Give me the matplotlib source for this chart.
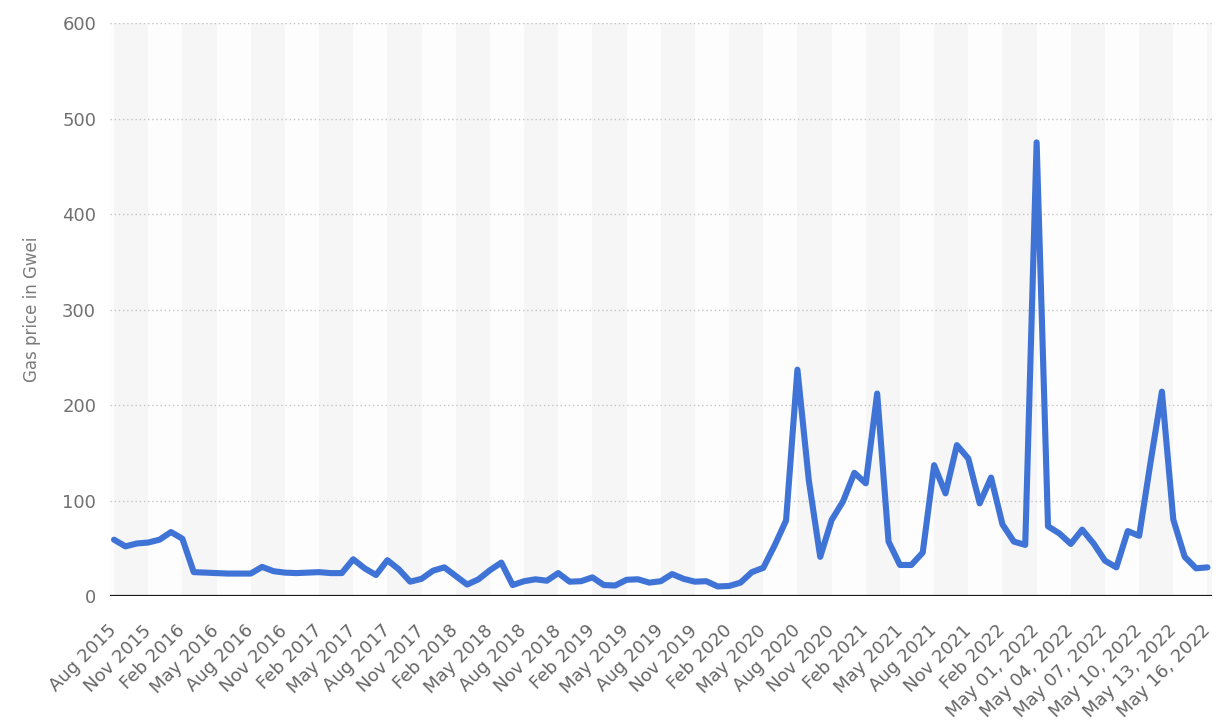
import pandas as pd
import matplotlib.pyplot as plt
from matplotlib.transforms import ScaledTranslation

# monthly averages Aug 2015 - Apr 2022, then daily values May 1-16, 2022
months = pd.date_range('2015-08-01', '2022-04-01', freq='MS').strftime('%b %Y').tolist()
days = pd.date_range('2022-05-01', '2022-05-16', freq='D').strftime('%b %d, %Y').tolist()
labels = months + days

gas_price = [
    59, 52, 55, 56, 59, 67, 60, 25, 24.5, 24, 23.5, 23.5, 23.5, 30.5, 26, 24.5,
    24, 24.5, 25, 24, 24, 38.5, 29, 22, 37.5, 28, 15, 18, 26.5, 30, 21, 12,
    17.5, 27, 35, 11.5, 15.5, 17.5, 16, 24, 15, 15.5, 19.5, 11.5, 11, 17, 17.5, 14,
    15.5, 23, 18, 15, 15.5, 10, 10.5, 14, 25, 29.5, 53, 79, 237, 121,
    41, 79.5, 99, 129, 118, 212, 57, 32.5, 32.5, 45.5, 137, 107.5, 158, 144, 97, 124,
    75, 57, 53.5,
    475, 73, 65.5, 54.5, 69.5, 55, 37, 30, 68, 63, 140, 214, 80, 41, 29, 30,
]

y_ticks = [0, 100, 200, 300, 400, 500, 600]


def main():
    fig = plt.figure(figsize=(12.28, 7.28), dpi=100)
    ax = fig.add_axes([0.0896, 0.1813, 0.8974, 0.7871])
    ax.set_facecolor('#fdfdfd')

    n = len(gas_price)
    x = list(range(n))

    # alternating background bands, one per labelled tick interval
    for k in range(0, n, 6):
        ax.axvspan(k, k + 3, color='#f6f6f6', lw=0, zorder=0)

    ax.plot(x, gas_price, color='#3f74d6', lw=4.4,
            solid_joinstyle='round', solid_capstyle='round', zorder=3)

    ax.axhline(0, color='#1a1a1a', lw=1.6, zorder=4)
    ax.set_ylim(0, 600)
    ax.set_xlim(-0.35, n - 0.6)
    ax.set_yticks(y_ticks)
    ax.yaxis.grid(True, linestyle=(0, (1, 2)), color='#c4c4c4', lw=1)
    ax.set_axisbelow(True)

    ax.set_xticks(x[::3])
    ax.set_xticklabels(labels[::3], rotation=45, ha='right', va='center',
                       rotation_mode='anchor', fontsize=13, color='#666666')
    offset = ScaledTranslation(0.07, 0, fig.dpi_scale_trans)
    for lab in ax.get_xticklabels():
        lab.set_transform(lab.get_transform() + offset)

    ax.tick_params(axis='x', length=0, pad=23)
    ax.tick_params(axis='y', length=0, pad=10, labelsize=13, labelcolor='#707070')

    for s in ax.spines.values():
        s.set_visible(False)

    fig.text(31.6 / 1228, 1 - 309 / 728, 'Gas price in Gwei', rotation=90,
             ha='center', va='center', fontsize=12, color='#7a7a7a')

    fig.savefig('out.png', dpi=100, facecolor='white')


if __name__ == "__main__":
    main()
